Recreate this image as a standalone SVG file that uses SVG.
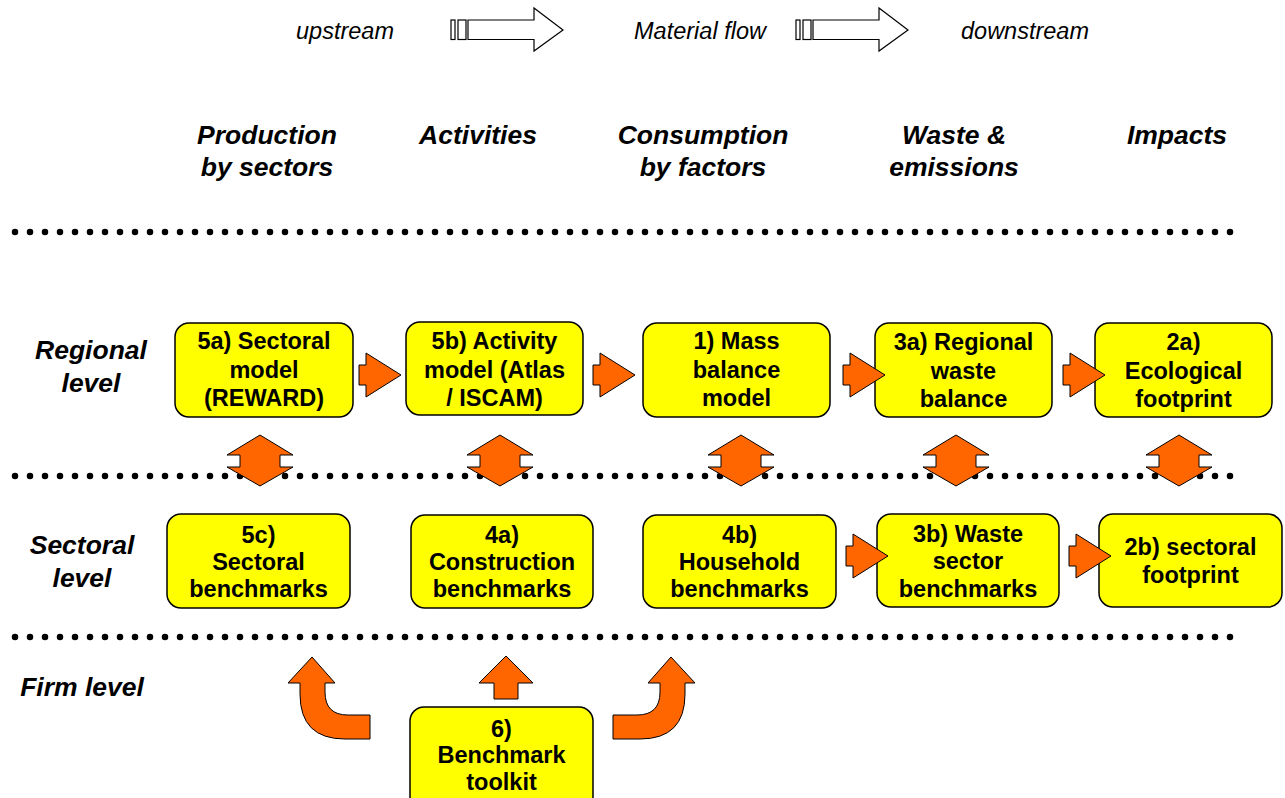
<svg xmlns="http://www.w3.org/2000/svg" width="1285" height="798" viewBox="0 0 1285 798">
  <style>
    .box { fill: #FFFF00; stroke: #000; stroke-width: 1.5; }
    .bt { font-family: "Liberation Sans", Arial, sans-serif; font-weight: bold; font-size: 23.5px; text-anchor: middle; fill: #000; }
    .hd { font-family: "Liberation Sans", Arial, sans-serif; font-weight: bold; font-style: italic; font-size: 26.5px; text-anchor: middle; fill: #000; }
    .tp { font-family: "Liberation Sans", Arial, sans-serif; font-style: italic; font-size: 23.5px; text-anchor: middle; fill: #000; }
    .dots { stroke: #000; stroke-width: 6.5; stroke-linecap: round; stroke-dasharray: 0 15; fill: none; }
    .arr { fill: #FF6600; stroke: #000; stroke-width: 1; stroke-linejoin: miter; }
    .hollow { fill: #fff; stroke: #000; stroke-width: 1.2; }
  </style>
  <defs>
    <!-- notched right arrow, origin at the tail's left edge, vertical centre -->
    <path id="rarrow" d="M0,-10 L7,-10 L7,-22 L42,0 L7,22 L7,10 L0,10 Z"/>
    <!-- double up/down arrow, origin at its top tip -->
    <path id="udarrow" d="M0,0 L33,20 L20,20 L20,32 L33,32 L0,51 L-33,32 L-20,32 L-20,20 L-33,20 Z"/>
    <!-- outlined flow arrow with two stripes at its tail -->
    <g id="flow">
      <rect class="hollow" x="0" y="-10" width="4" height="19.5"/>
      <rect class="hollow" x="7" y="-10" width="8" height="19.5"/>
      <path class="hollow" d="M17,-10 L83,-10 L83,-22 L112,0 L83,21 L83,9.5 L17,9.5 Z"/>
    </g>
  </defs>

  <!-- flow direction legend -->
  <g id="legend">
    <text class="tp" x="345" y="39">upstream</text>
    <use href="#flow" x="451" y="30"/>
    <text class="tp" x="700" y="39">Material flow</text>
    <use href="#flow" x="796" y="30"/>
    <text class="tp" x="1025" y="39">downstream</text>
  </g>

  <!-- column headings -->
  <g id="headings">
    <text class="hd" x="267" y="144">Production</text>
    <text class="hd" x="267" y="176">by sectors</text>
    <text class="hd" x="478" y="144">Activities</text>
    <text class="hd" x="703" y="144">Consumption</text>
    <text class="hd" x="703" y="176">by factors</text>
    <text class="hd" x="954" y="144">Waste &amp;</text>
    <text class="hd" x="954" y="176">emissions</text>
    <text class="hd" x="1177" y="144">Impacts</text>
  </g>

  <!-- row labels -->
  <g id="levels">
    <text class="hd" x="91" y="359">Regional</text>
    <text class="hd" x="91" y="392">level</text>
    <text class="hd" x="82" y="554">Sectoral</text>
    <text class="hd" x="82" y="587">level</text>
    <text class="hd" x="82" y="696">Firm level</text>
  </g>

  <!-- level separators -->
  <g id="separators">
    <line class="dots" x1="15" y1="232" x2="1231" y2="232"/>
    <line class="dots" x1="15" y1="476" x2="1231" y2="476"/>
    <line class="dots" x1="15" y1="637" x2="1231" y2="637"/>
  </g>

  <!-- regional level -->
  <g id="n5a">
    <rect class="box" x="175" y="323" width="178" height="94" rx="14"/>
    <text class="bt" x="264" y="349">5a) Sectoral</text>
    <text class="bt" x="264" y="378">model</text>
    <text class="bt" x="264" y="406">(REWARD)</text>
  </g>
  <g id="n5b">
    <rect class="box" x="406" y="322" width="177" height="93" rx="14"/>
    <text class="bt" x="494.5" y="349">5b) Activity</text>
    <text class="bt" x="494.5" y="378">model (Atlas</text>
    <text class="bt" x="494.5" y="406">/ ISCAM)</text>
  </g>
  <g id="n1">
    <rect class="box" x="643" y="323" width="187" height="94" rx="14"/>
    <text class="bt" x="736.5" y="349">1) Mass</text>
    <text class="bt" x="736.5" y="378">balance</text>
    <text class="bt" x="736.5" y="406">model</text>
  </g>
  <g id="n3a">
    <rect class="box" x="875" y="323" width="177" height="94" rx="14"/>
    <text class="bt" x="963.5" y="350">3a) Regional</text>
    <text class="bt" x="963.5" y="379">waste</text>
    <text class="bt" x="963.5" y="407">balance</text>
  </g>
  <g id="n2a">
    <rect class="box" x="1095" y="323" width="177" height="94" rx="14"/>
    <text class="bt" x="1183.5" y="350">2a)</text>
    <text class="bt" x="1183.5" y="379">Ecological</text>
    <text class="bt" x="1183.5" y="407">footprint</text>
  </g>

  <!-- sectoral level -->
  <g id="n5c">
    <rect class="box" x="167" y="514" width="183" height="94" rx="14"/>
    <text class="bt" x="258.5" y="543">5c)</text>
    <text class="bt" x="258.5" y="570">Sectoral</text>
    <text class="bt" x="258.5" y="597">benchmarks</text>
  </g>
  <g id="n4a">
    <rect class="box" x="411" y="515" width="182" height="93" rx="14"/>
    <text class="bt" x="502" y="543">4a)</text>
    <text class="bt" x="502" y="570">Construction</text>
    <text class="bt" x="502" y="597">benchmarks</text>
  </g>
  <g id="n4b">
    <rect class="box" x="643" y="515" width="193" height="93" rx="14"/>
    <text class="bt" x="739.5" y="543">4b)</text>
    <text class="bt" x="739.5" y="570">Household</text>
    <text class="bt" x="739.5" y="597">benchmarks</text>
  </g>
  <g id="n3b">
    <rect class="box" x="877" y="514" width="182" height="93" rx="14"/>
    <text class="bt" x="968" y="542">3b) Waste</text>
    <text class="bt" x="968" y="569">sector</text>
    <text class="bt" x="968" y="597">benchmarks</text>
  </g>
  <g id="n2b">
    <rect class="box" x="1099" y="514" width="183" height="93" rx="14"/>
    <text class="bt" x="1190.5" y="555">2b) sectoral</text>
    <text class="bt" x="1190.5" y="583">footprint</text>
  </g>

  <!-- firm level -->
  <g id="n6">
    <rect class="box" x="410" y="707" width="183" height="110" rx="14"/>
    <text class="bt" x="501.5" y="737">6)</text>
    <text class="bt" x="501.5" y="763">Benchmark</text>
    <text class="bt" x="501.5" y="790">toolkit</text>
  </g>

  <!-- connectors -->
  <g id="connectors">
    <use href="#rarrow" class="arr" x="359" y="375"/>
    <use href="#rarrow" class="arr" x="593" y="375"/>
    <use href="#rarrow" class="arr" x="843" y="375"/>
    <use href="#rarrow" class="arr" x="1063" y="375"/>
    <use href="#rarrow" class="arr" x="846" y="556"/>
    <use href="#rarrow" class="arr" x="1069" y="556"/>

    <use href="#udarrow" class="arr" x="260" y="435"/>
    <use href="#udarrow" class="arr" x="500" y="435"/>
    <use href="#udarrow" class="arr" x="741" y="435"/>
    <use href="#udarrow" class="arr" x="956" y="435"/>
    <use href="#udarrow" class="arr" x="1179" y="435"/>

    <path class="arr" d="M370,715 L348,715 Q325,715 325,692 L325,683 L335,683 L312,657 L288,683 L300,683 L300,694 Q300,739 345,739 L370,739 Z"/>
    <path class="arr" d="M494,699 L494,683 L479,683 L506,656 L533,683 L518,683 L518,699 Z"/>
    <path class="arr" d="M613,715 L637,715 Q660,715 660,692 L660,683 L648,683 L671,657 L695,683 L685,683 L685,694 Q685,739 640,739 L613,739 Z"/>
  </g>
</svg>
